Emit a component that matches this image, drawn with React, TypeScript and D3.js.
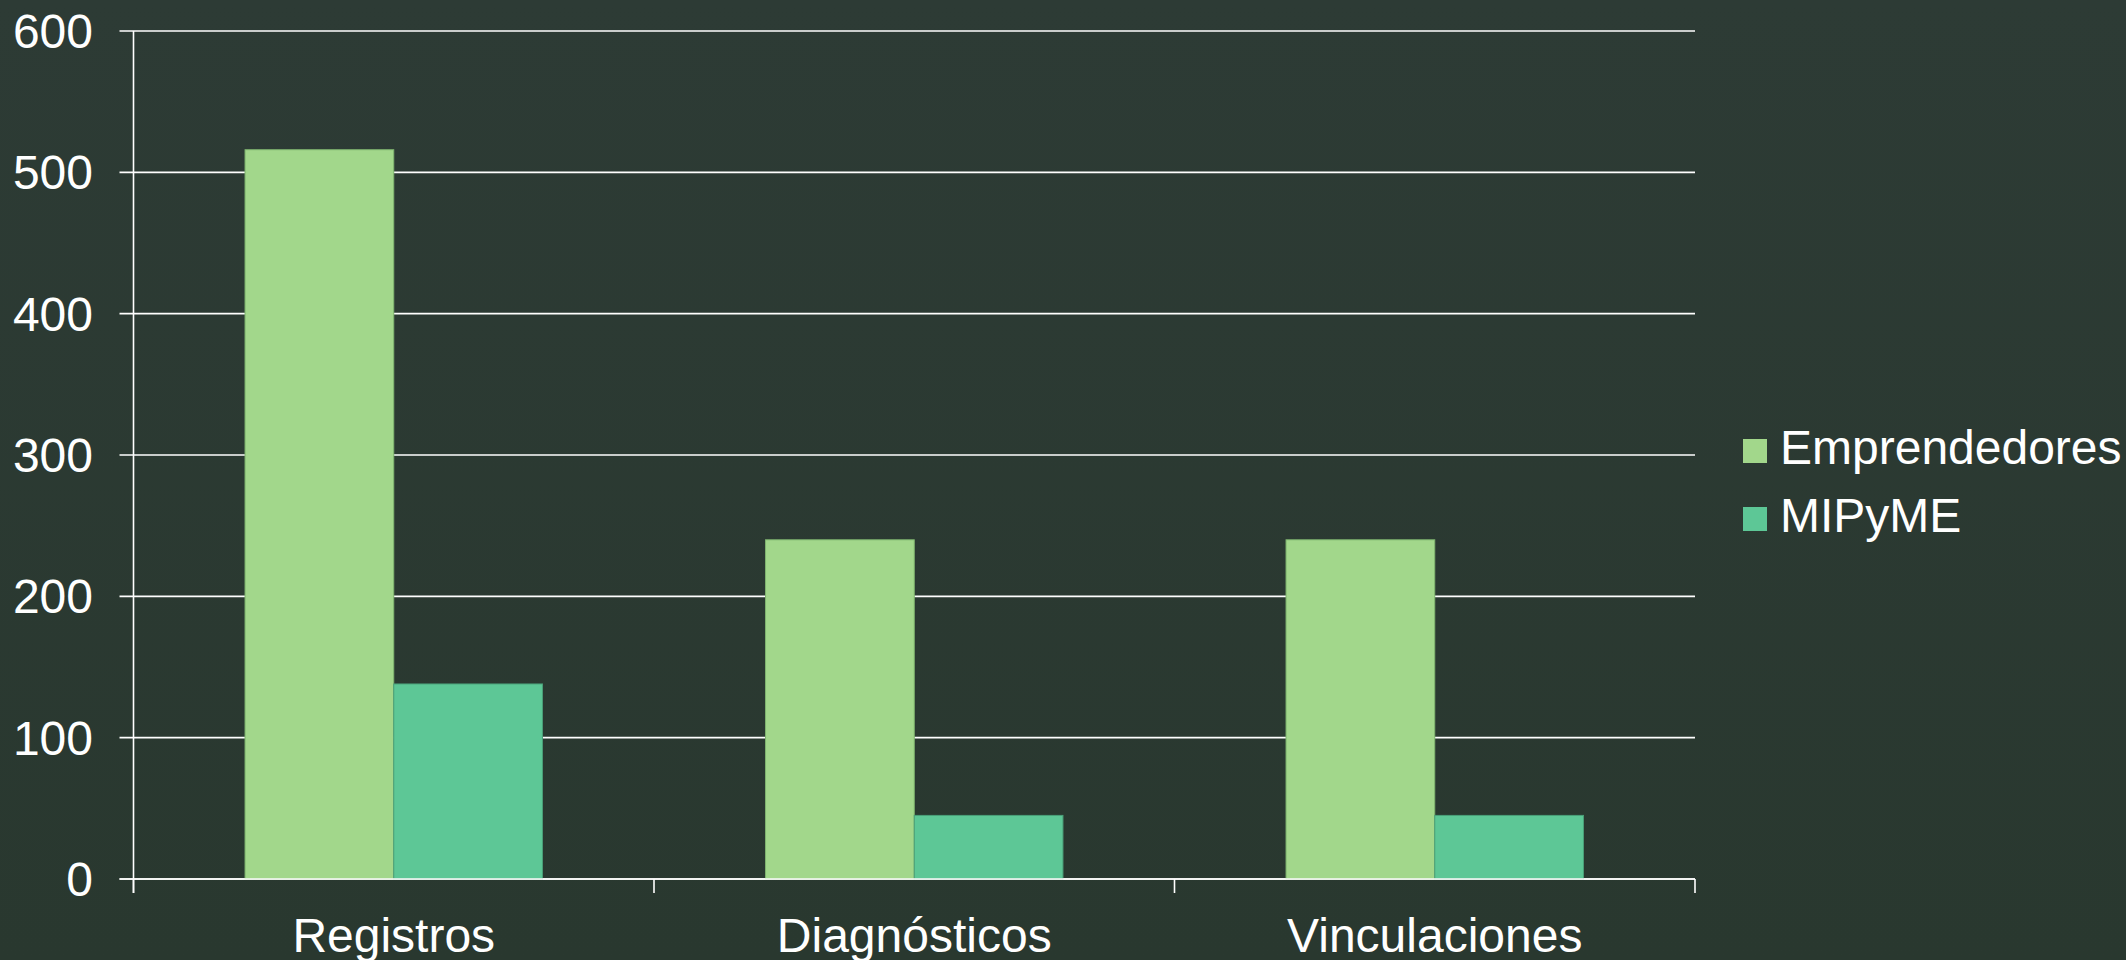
import React from "react";
import * as d3 from "d3";

const categories = ["Registros", "Diagnósticos", "Vinculaciones"];
const seriesNames = ["Emprendedores", "MIPyME"];
const emprendedores = [516, 240, 240];
const mipyme = [138, 45, 45];
const yTicks = [0, 100, 200, 300, 400, 500, 600];
const colors = ["#a2d78b", "#5dc796"];
const strokes = ["#7fb46f", "#4a9f78"];

const W = 2126;
const H = 960;
const plot = { left: 133.5, right: 1695, top: 31, bottom: 879 };
const FONT = "'Liberation Sans', Arial, sans-serif";

export default function App() {
  const x = d3.scaleBand<string>().domain(categories).range([plot.left, plot.right]).paddingInner(0).paddingOuter(0);
  const y = d3.scaleLinear().domain([0, 600]).range([plot.bottom, plot.top]);
  const inner = d3.scaleBand<string>().domain(seriesNames).range([0, x.bandwidth()]).paddingInner(0).paddingOuter(0.75);
  const series = [emprendedores, mipyme];
  const boundaries = [...categories.map((c) => x(c) as number), plot.right];

  return (
    <svg width={W} height={H} style={{ position: "absolute", left: 0, top: 0, display: "block" }}>
      <defs>
        <linearGradient id="bg" x1="0" y1="0" x2="0" y2="1">
          <stop offset="0" stopColor="#2d3b35" />
          <stop offset="1" stopColor="#29382f" />
        </linearGradient>
      </defs>
      <rect x={0} y={0} width={W} height={H} fill="url(#bg)" />
      {yTicks.map((t) => (
        <line key={"g" + t} x1={plot.left - 14} x2={plot.right} y1={y(t)} y2={y(t)} stroke="#ffffff" strokeWidth={1.6} />
      ))}
      {series.map((vals, si) =>
        categories.map((c, ci) => {
          const bx = (x(c) as number) + (inner(seriesNames[si]) as number);
          return (
            <rect
              key={si + "-" + ci}
              x={bx}
              y={y(vals[ci])}
              width={inner.bandwidth()}
              height={y(0) - y(vals[ci])}
              fill={colors[si]}
              stroke={strokes[si]}
              strokeWidth={1}
            />
          );
        })
      )}
      <line x1={plot.left} x2={plot.left} y1={plot.top} y2={plot.bottom + 14} stroke="#ffffff" strokeWidth={1.6} />
      <line x1={plot.left - 14} x2={plot.right} y1={plot.bottom} y2={plot.bottom} stroke="#ffffff" strokeWidth={1.6} />
      {boundaries.map((b, i) => (
        <line key={"t" + i} x1={b} x2={b} y1={plot.bottom} y2={plot.bottom + 14} stroke="#ffffff" strokeWidth={1.6} />
      ))}
      {yTicks.map((t) => (
        <text key={"yl" + t} x={93} y={y(t) + 17} textAnchor="end" fill="#ffffff" fontFamily={FONT} fontSize={48}>
          {t}
        </text>
      ))}
      {categories.map((c) => (
        <text key={"xl" + c} x={(x(c) as number) + x.bandwidth() / 2} y={952} textAnchor="middle" fill="#ffffff" fontFamily={FONT} fontSize={48}>
          {c}
        </text>
      ))}
      {seriesNames.map((s, i) => (
        <g key={"lg" + s} transform={`translate(1743, ${439 + i * 68})`}>
          <rect x={0} y={0} width={24} height={24} fill={colors[i]} />
          <text x={37} y={25} fill="#ffffff" fontFamily={FONT} fontSize={48}>
            {s}
          </text>
        </g>
      ))}
    </svg>
  );
}
